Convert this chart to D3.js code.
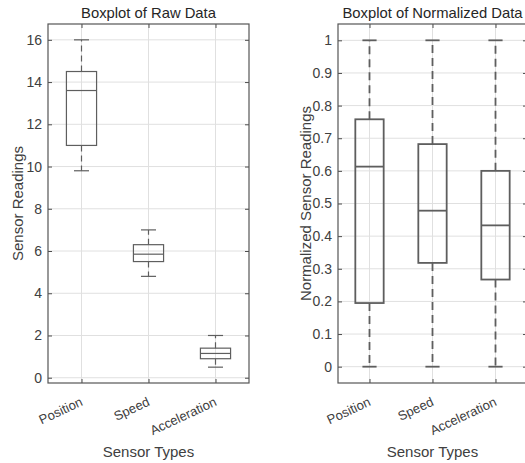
<!DOCTYPE html>
<html>
<head>
<meta charset="utf-8">
<script src="https://cdn.jsdelivr.net/npm/d3@7"></script>
<style>
  body { margin: 0; background: #fff; }
  svg { display: block; font-family: "Liberation Sans", Arial, sans-serif; }
</style>
</head>
<body>
<div id="chart"></div>
<script>
// categories on the x axis
const categories = ["Position", "Speed", "Acceleration"];

// raw data box statistics
const rawLow = [9.8, 4.8, 0.5];
const rawQ1 = [11.0, 5.5, 0.9];
const rawMedian = [13.6, 5.85, 1.15];
const rawQ3 = [14.5, 6.3, 1.4];
const rawHigh = [16.0, 7.0, 2.0];

// normalized data box statistics
const normLow = [0, 0, 0];
const normQ1 = [0.195, 0.318, 0.267];
const normMedian = [0.613, 0.478, 0.433];
const normQ3 = [0.758, 0.682, 0.600];
const normHigh = [1, 1, 1];

// tick labels
const rawTicks = [0, 2, 4, 6, 8, 10, 12, 14, 16];
const normTicks = [0, 0.1, 0.2, 0.3, 0.4, 0.5, 0.6, 0.7, 0.8, 0.9, 1];

const W = 525, H = 463;
const svg = d3.select("#chart").append("svg")
    .attr("width", W)
    .attr("height", H);

function boxPanel(opt) {
    // scales for this panel
    let x = d3.scaleLinear().domain([0.5, 3.5]).range([opt.left, opt.right]);
    let y = d3.scaleLinear().domain(opt.yDomain).range([opt.bottom, opt.top]);

    let g = svg.append("g");
    let gridColor = "#e0e0e0";

    // grid lines
    g.selectAll(".ygrid").data(opt.ticks).enter().append("line")
        .attr("x1", opt.left).attr("x2", opt.right)
        .attr("y1", d => y(d)).attr("y2", d => y(d))
        .attr("stroke", gridColor).attr("stroke-width", 1);
    g.selectAll(".xgrid").data(categories).enter().append("line")
        .attr("x1", (d, i) => x(i + 1)).attr("x2", (d, i) => x(i + 1))
        .attr("y1", opt.top).attr("y2", opt.bottom)
        .attr("stroke", gridColor).attr("stroke-width", 1);

    // y axis with inward ticks
    let yAxis = d3.axisLeft(y).tickValues(opt.ticks).tickSize(-4).tickPadding(6)
        .tickFormat(d3.format("~g"));
    let ya = g.append("g").attr("transform", "translate(" + opt.left + ",0)").call(yAxis);
    ya.select(".domain").remove();
    ya.selectAll("line").attr("stroke", "#4d4d4d");
    ya.selectAll("text").attr("fill", "#404040").attr("font-size", 14)
        .attr("font-family", "Liberation Sans, Arial, sans-serif");

    // inward ticks on the right side
    let yr = g.append("g").attr("transform", "translate(" + opt.right + ",0)")
        .call(d3.axisRight(y).tickValues(opt.ticks).tickSize(-4).tickFormat(""));
    yr.select(".domain").remove();
    yr.selectAll("line").attr("stroke", "#4d4d4d");

    // x axis ticks inward, labels rotated
    let xb = g.append("g").attr("transform", "translate(0," + opt.bottom + ")")
        .call(d3.axisBottom(x).tickValues([1, 2, 3]).tickSize(-4).tickFormat(""));
    xb.select(".domain").remove();
    xb.selectAll("line").attr("stroke", "#4d4d4d");
    let xt = g.append("g").attr("transform", "translate(0," + opt.top + ")")
        .call(d3.axisTop(x).tickValues([1, 2, 3]).tickSize(-4).tickFormat(""));
    xt.select(".domain").remove();
    xt.selectAll("line").attr("stroke", "#4d4d4d");

    g.selectAll(".xlab").data(categories).enter().append("text")
        .attr("transform", (d, i) => "translate(" + (x(i + 1) + 2) + "," + (opt.bottom + 22) + ") rotate(-25)")
        .attr("text-anchor", "end")
        .attr("fill", "#404040")
        .attr("font-size", 13)
        .text(d => d);

    // whiskers
    let lineColor = "#5e5e5e";
    let bw = 0.45;
    let stats = categories.map((c, i) => ({
        i: i + 1, low: opt.low[i], q1: opt.q1[i], med: opt.median[i], q3: opt.q3[i], high: opt.high[i]
    }));
    let box = g.selectAll(".box").data(stats).enter().append("g");

    box.append("line")
        .attr("x1", d => x(d.i)).attr("x2", d => x(d.i))
        .attr("y1", d => y(d.q3)).attr("y2", d => y(d.high))
        .attr("stroke", lineColor).attr("stroke-width", opt.lw).attr("stroke-dasharray", opt.dash);
    box.append("line")
        .attr("x1", d => x(d.i)).attr("x2", d => x(d.i))
        .attr("y1", d => y(d.q1)).attr("y2", d => y(d.low))
        .attr("stroke", lineColor).attr("stroke-width", opt.lw).attr("stroke-dasharray", opt.dash);

    // whisker caps
    box.append("line")
        .attr("x1", d => x(d.i - bw / 4)).attr("x2", d => x(d.i + bw / 4))
        .attr("y1", d => y(d.high)).attr("y2", d => y(d.high))
        .attr("stroke", lineColor).attr("stroke-width", opt.lw);
    box.append("line")
        .attr("x1", d => x(d.i - bw / 4)).attr("x2", d => x(d.i + bw / 4))
        .attr("y1", d => y(d.low)).attr("y2", d => y(d.low))
        .attr("stroke", lineColor).attr("stroke-width", opt.lw);

    // boxes
    box.append("rect")
        .attr("x", d => x(d.i - bw / 2))
        .attr("width", d => x(d.i + bw / 2) - x(d.i - bw / 2))
        .attr("y", d => y(d.q3))
        .attr("height", d => y(d.q1) - y(d.q3))
        .attr("fill", "none")
        .attr("stroke", lineColor).attr("stroke-width", opt.lw);

    // medians
    box.append("line")
        .attr("x1", d => x(d.i - bw / 2)).attr("x2", d => x(d.i + bw / 2))
        .attr("y1", d => y(d.med)).attr("y2", d => y(d.med))
        .attr("stroke", lineColor).attr("stroke-width", opt.lw);

    // frame
    g.append("rect")
        .attr("x", opt.left).attr("y", opt.top)
        .attr("width", opt.right - opt.left).attr("height", opt.bottom - opt.top)
        .attr("fill", "none").attr("stroke", "#555").attr("stroke-width", 1.2);

    // title and labels
    g.append("text")
        .attr("x", (opt.left + opt.right) / 2).attr("y", 18)
        .attr("text-anchor", "middle").attr("fill", "#262626")
        .attr("font-size", 14.8)
        .text(opt.title);
    g.append("text")
        .attr("x", (opt.left + opt.right) / 2).attr("y", 457)
        .attr("text-anchor", "middle").attr("fill", "#404040")
        .attr("font-size", 15)
        .text("Sensor Types");
    g.append("text")
        .attr("transform", "translate(" + opt.ylabX + "," + ((opt.top + opt.bottom) / 2) + ") rotate(-90)")
        .attr("text-anchor", "middle").attr("fill", "#404040")
        .attr("font-size", 15)
        .text(opt.ylabel);
}

boxPanel({
    left: 48, right: 249, top: 24, bottom: 383,
    yDomain: [-0.25, 16.75], ticks: rawTicks,
    low: rawLow, q1: rawQ1, median: rawMedian, q3: rawQ3, high: rawHigh,
    lw: 1.2, dash: "6,4", title: "Boxplot of Raw Data", ylabel: "Sensor Readings", ylabX: 23
});

boxPanel({
    left: 338, right: 527, top: 24, bottom: 383,
    yDomain: [-0.05, 1.05], ticks: normTicks,
    low: normLow, q1: normQ1, median: normMedian, q3: normQ3, high: normHigh,
    lw: 1.8, dash: "8,5", title: "Boxplot of Normalized Data", ylabel: "Normalized Sensor Readings", ylabX: 310.5
});
</script>
</body>
</html>
